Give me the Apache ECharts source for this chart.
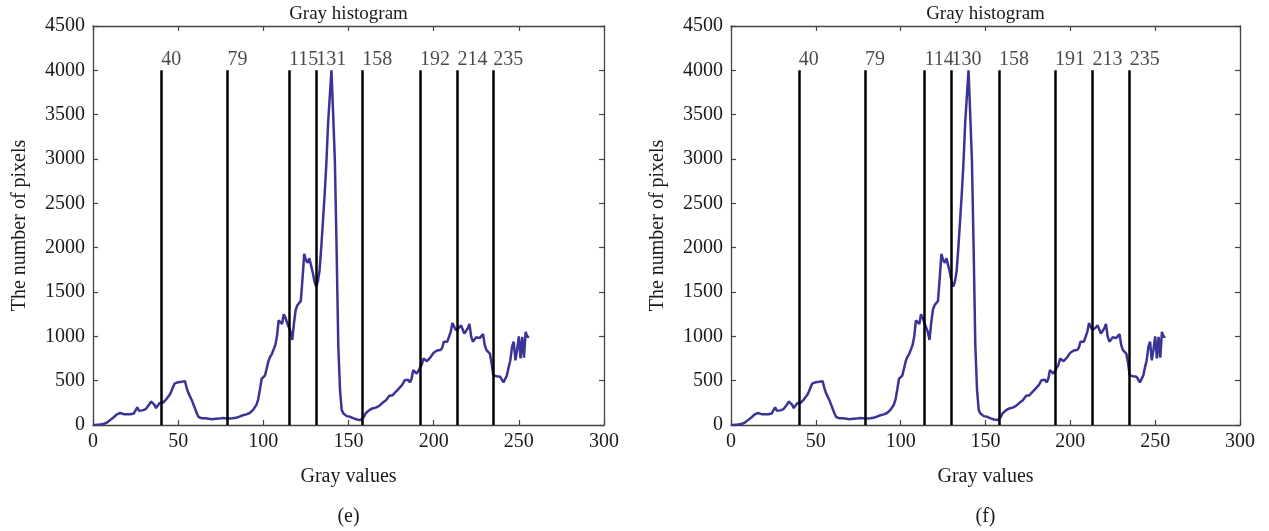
<!DOCTYPE html>
<html><head><meta charset="utf-8">
<script src="https://cdn.jsdelivr.net/npm/echarts@6/dist/echarts.min.js"></script>
<style>html,body{margin:0;padding:0;background:#fff}#c{width:1269px;height:531px}</style>
</head><body><div id="c"></div>
<script>
// Pixel count per gray level (index = gray value 0..256)
const grayCounts = [
  0,0,2,3,5,8,10,14,25,40,
  55,70,85,100,120,140,135,128,122,125,
  120,118,122,125,130,150,200,160,150,165,
  172,180,195,230,265,255,230,190,205,245,
  255,250,265,290,310,340,380,430,470,480,
  482,485,488,490,495,420,360,320,280,230,
  180,130,90,80,75,70,75,68,70,72,
  65,68,70,66,72,80,78,70,75,72,
  74,78,75,80,82,90,95,100,110,115,
  120,125,135,150,170,190,230,290,400,520,
  540,560,640,720,770,800,850,900,1000,1180,
  1200,1140,1250,1210,1150,1140,1050,960,1150,1300,
  1350,1370,1400,1650,1930,1860,1830,1880,1800,1720,
  1620,1560,1620,1740,2000,2300,2600,2950,3400,3700,
  4000,3500,2980,2000,900,400,170,130,110,100,
  95,92,85,75,65,62,60,55,62,90,
  130,150,165,172,187,190,196,200,215,225,
  250,262,280,300,330,345,335,360,380,400,
  420,440,470,506,495,510,480,520,620,600,
  580,610,600,680,750,745,720,740,760,790,
  815,820,840,830,845,870,940,955,940,960,
  1050,1150,1140,1070,1060,1100,1125,1080,1030,1060,
  1090,1140,1000,940,960,990,995,980,1000,1025,
  900,845,830,806,700,560,545,550,540,545,
  530,480,470,560,650,730,880,940,730,850,
  1000,750,995,760,1050,990,1000
];
const thresholdsE = [40,79,115,131,158,192,214,235];
const thresholdsF = [40,79,114,130,158,191,213,235];
const lineTop = 4000;
const panelCaptions = ['(e)','(f)'];
const chartTitle = 'Gray histogram';
const xName = 'Gray values';
const yName = 'The number of pixels';

const FONT = 'Liberation Serif';
const TXT = '#1a1a1a';
const AX = '#444';
const CURVE = '#3a3496';

const grids = [
  {left:93, top:26, width:511, height:399, outerBoundsMode:'none', containLabel:false},
  {left:731, top:26, width:509, height:399, outerBoundsMode:'none', containLabel:false}
];

const xAxes = [], yAxes = [], series = [];
const panels = [thresholdsE, thresholdsF];
panels.forEach((th, i) => {
  const axisLine = {show:true, onZero:false, lineStyle:{color:AX, width:1.3}};
  const tick = {show:true, inside:true, length:5, lineStyle:{color:AX, width:1.2}};
  xAxes.push({
    type:'value', gridIndex:i, min:0, max:300, interval:50, position:'bottom',
    axisLine, axisTick:tick, splitLine:{show:false},
    axisLabel:{color:TXT, fontFamily:FONT, fontSize:20, margin:7, formatter:v=>String(v)},
    name:xName, nameLocation:'middle', nameGap:42,
    nameTextStyle:{color:TXT, fontFamily:FONT, fontSize:20}
  });
  xAxes.push({
    type:'value', gridIndex:i, min:0, max:300, interval:50, position:'top',
    axisLine, axisTick:tick, splitLine:{show:false}, axisLabel:{show:false},
    name:chartTitle, nameLocation:'middle', nameGap:2,
    nameTextStyle:{color:TXT, fontFamily:FONT, fontSize:19}
  });
  yAxes.push({
    type:'value', gridIndex:i, min:0, max:4500, interval:500, position:'left',
    axisLine, axisTick:tick, splitLine:{show:false},
    axisLabel:{color:TXT, fontFamily:FONT, fontSize:20, margin:8, formatter:v=>String(v)},
    name:yName, nameLocation:'middle', nameGap:63,
    nameTextStyle:{color:TXT, fontFamily:FONT, fontSize:20}
  });
  yAxes.push({
    type:'value', gridIndex:i, min:0, max:4500, interval:500, position:'right',
    axisLine, axisTick:tick, splitLine:{show:false}, axisLabel:{show:false}
  });
  series.push({
    type:'line', xAxisIndex:2*i, yAxisIndex:2*i, showSymbol:false, silent:true,
    data: grayCounts.map((v,g)=>[g,v]),
    lineStyle:{color:CURVE, width:2.5}, itemStyle:{color:CURVE}, z:2
  });
  series.push({
    type:'scatter', xAxisIndex:2*i, yAxisIndex:2*i, silent:true,
    symbolSize:1, itemStyle:{color:'rgba(0,0,0,0)'},
    data: th.map(t=>[t,lineTop]),
    label:{show:true, position:'top', align:'left', distance:0,
      formatter:p=>String(p.value[0]), color:TXT, fontFamily:FONT, fontSize:20},
    markLine:{silent:true, symbol:'none', label:{show:false},
      lineStyle:{color:'#000', width:2.5, type:'solid'},
      data: th.map(t=>[{coord:[t,0]},{coord:[t,lineTop]}])},
    z:3
  });
});

const chart = echarts.init(document.getElementById('c'), null, {renderer:'canvas'});
chart.setOption({
  backgroundColor:'#fff',
  animation:false,
  grid:grids,
  xAxis:xAxes,
  yAxis:yAxes,
  series:series,
  graphic: panelCaptions.map((c,i)=>({
    type:'text', x: grids[i].left + grids[i].width/2, y: 507,
    style:{text:c, fill:TXT, font:'20px "Liberation Serif"', textAlign:'center'}
  }))
});
</script></body></html>
